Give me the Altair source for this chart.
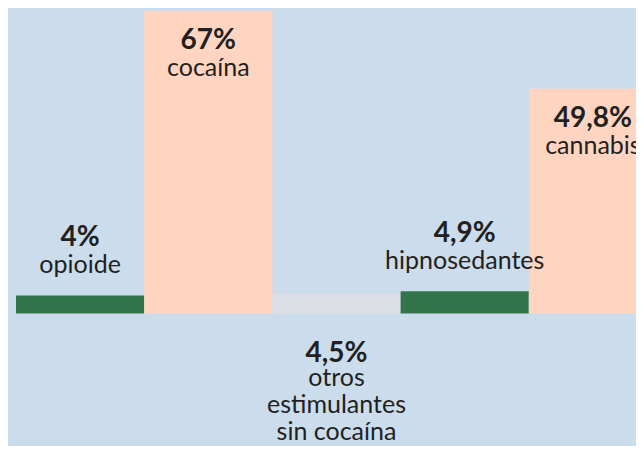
import altair as alt
import pandas as pd

categories = ["opioide", "cocaína", "otros estimulantes sin cocaína", "hipnosedantes", "cannabis"]
label_lines = [["opioide"], ["cocaína"], ["otros", "estimulantes", "sin cocaína"], ["hipnosedantes"], ["cannabis"]]
values = [4, 67, 4.5, 4.9, 49.8]
value_labels = ["4%", "67%", "4,5%", "4,9%", "49,8%"]
placement = ["above", "inside", "below", "above", "inside"]
colors = ["#33754b", "#ffd5c2", "#dbdfe5", "#33754b", "#ffd5c2"]

df = pd.DataFrame({
    "idx": list(range(len(categories))),
    "categoria": categories,
    "lines": label_lines,
    "valor": values,
    "vlabel": value_labels,
    "pos": placement,
    "color": colors,
})

BG = "#cbdcec"
TXT = "#231f20"
FONT = "Lato"

xs = alt.Scale(domain=[0, 4.836], nice=False, zero=False)
ys = alt.Scale(domain=[-29.35, 67.66], nice=False, zero=False)

base = alt.Chart(df).transform_calculate(
    x2="datum.idx + 1", mid="datum.idx + 0.5", zero="0"
)

bars = base.mark_bar(clip=True).encode(
    x=alt.X("idx:Q", scale=xs, axis=None),
    x2="x2:Q",
    y=alt.Y("valor:Q", scale=ys, axis=None),
    y2="zero:Q",
    color=alt.Color("color:N", scale=None),
)

def txt(pos, dy_val, dy_lab, lh=28):
    b = base.transform_filter(alt.datum.pos == pos)
    yfield = "valor:Q" if pos != "below" else "zero:Q"
    v = b.mark_text(font=FONT, fontWeight="bold", fontSize=28, color=TXT,
                    baseline="alphabetic", dy=dy_val, clip=True).encode(
        x=alt.X("mid:Q", scale=xs), y=alt.Y(yfield, scale=ys),
        text="vlabel:N")
    l = b.mark_text(font=FONT, fontSize=25, color=TXT, baseline="alphabetic",
                    dy=dy_lab, lineHeight=lh, clip=True).encode(
        x=alt.X("mid:Q", scale=xs), y=alt.Y(yfield, scale=ys),
        text="lines")
    return [v, l]

layers = [bars] + txt("inside", 38, 65) + txt("above", -49, -22) + txt("below", 49, 73, 27)

chart = alt.layer(*layers).properties(
    width=620, height=438,
    padding={"left": 8, "top": 0, "right": 0, "bottom": 0},
    autosize="none",
    background=BG,
).configure_view(stroke=None)

chart.save("out.html", embed_options={"renderer": "svg", "actions": False})
